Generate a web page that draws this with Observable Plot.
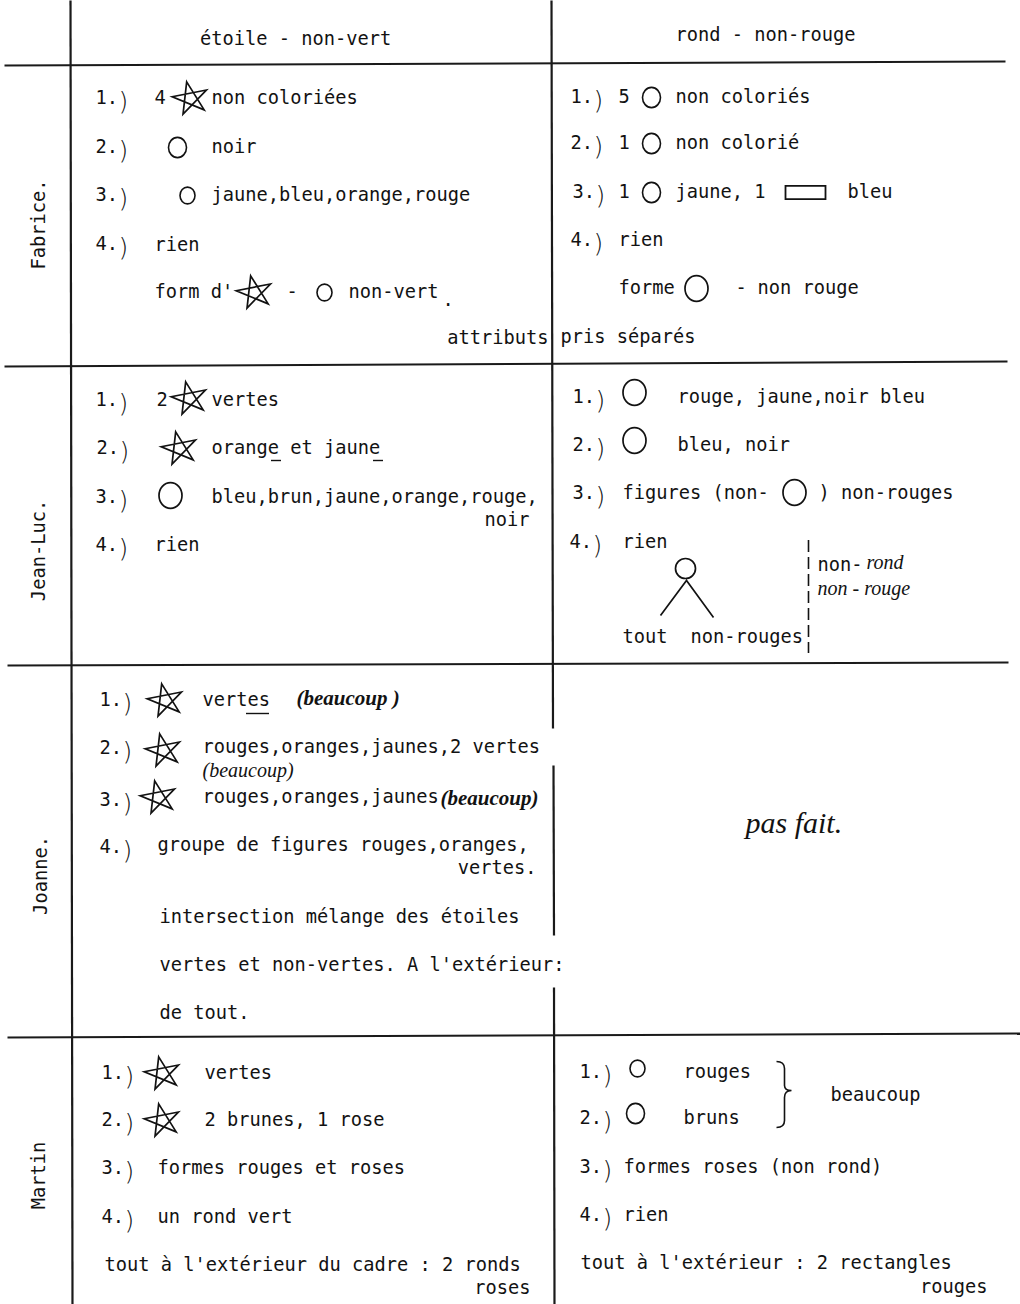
<!DOCTYPE html>
<html>
<head>
<meta charset="utf-8">
<script src="https://cdn.jsdelivr.net/npm/d3@7"></script>
<script src="https://cdn.jsdelivr.net/npm/@observablehq/plot@0.6"></script>
<style>
html, body { margin: 0; padding: 0; background: #fff; overflow: hidden; }
#chart svg { display: block; }
</style>
</head>
<body>
<div id="chart"></div>
<script>
const columnHeaders = [
  {text: "étoile - non-vert", x: 295, y: 39},
  {text: "rond - non-rouge", x: 765, y: 35}
];
const students = [
  {name: "Fabrice.", x: 39, y: 224},
  {name: "Jean-Luc.", x: 39, y: 550},
  {name: "Joanne.", x: 41, y: 875},
  {name: "Martin", x: 39, y: 1175}
];
const itemNumbers = [
  // Fabrice
  {n: "1", x: 98, y: 98}, {n: "2", x: 98, y: 147}, {n: "3", x: 98, y: 195}, {n: "4", x: 98, y: 244},
  {n: "1", x: 573, y: 97}, {n: "2", x: 573, y: 143}, {n: "3", x: 575, y: 192}, {n: "4", x: 573, y: 240},
  // Jean-Luc
  {n: "1", x: 98, y: 400}, {n: "2", x: 99, y: 448}, {n: "3", x: 98, y: 497}, {n: "4", x: 98, y: 545},
  {n: "1", x: 575, y: 397}, {n: "2", x: 575, y: 445}, {n: "3", x: 575, y: 493}, {n: "4", x: 572, y: 542},
  // Joanne
  {n: "1", x: 102, y: 700}, {n: "2", x: 102, y: 748}, {n: "3", x: 102, y: 800}, {n: "4", x: 102, y: 847},
  // Martin
  {n: "1", x: 104, y: 1073}, {n: "2", x: 104, y: 1120}, {n: "3", x: 104, y: 1168}, {n: "4", x: 104, y: 1217},
  {n: "1", x: 582, y: 1072}, {n: "2", x: 582, y: 1118}, {n: "3", x: 582, y: 1167}, {n: "4", x: 582, y: 1215}
];
const typedText = [
  // Fabrice, étoile - non-vert
  {text: "4", x: 154, y: 98},
  {text: "non coloriées", x: 211, y: 98},
  {text: "noir", x: 211, y: 147},
  {text: "jaune,bleu,orange,rouge", x: 211, y: 195},
  {text: "rien", x: 154, y: 245},
  {text: "form d'", x: 154, y: 292},
  {text: "-", x: 286, y: 292},
  {text: "non-vert", x: 348, y: 292},
  {text: ".", x: 442, y: 300},
  // Fabrice, rond - non-rouge
  {text: "5", x: 618, y: 97},
  {text: "non coloriés", x: 675, y: 97},
  {text: "1", x: 618, y: 143},
  {text: "non colorié", x: 675, y: 143},
  {text: "1", x: 618, y: 192},
  {text: "jaune, 1", x: 675, y: 192},
  {text: "bleu", x: 847, y: 192},
  {text: "rien", x: 618, y: 240},
  {text: "forme", x: 618, y: 288},
  {text: "-", x: 735, y: 288},
  {text: "non rouge", x: 757, y: 288},
  {text: "pris séparés", x: 560, y: 337},
  // Jean-Luc, étoile - non-vert
  {text: "2", x: 156, y: 400},
  {text: "vertes", x: 211, y: 400},
  {text: "orange et jaune", x: 211, y: 448},
  {text: "bleu,brun,jaune,orange,rouge,", x: 211, y: 497},
  {text: "rien", x: 154, y: 545},
  // Jean-Luc, rond - non-rouge
  {text: "rouge, jaune,noir bleu", x: 677, y: 397},
  {text: "bleu, noir", x: 677, y: 445},
  {text: "figures (non-", x: 622, y: 493},
  {text: ") non-rouges", x: 818, y: 493},
  {text: "rien", x: 622, y: 542},
  {text: "non-", x: 817, y: 565},
  {text: "tout", x: 622, y: 637},
  {text: "non-rouges", x: 690, y: 637},
  // Joanne, étoile - non-vert
  {text: "vertes", x: 202, y: 700},
  {text: "rouges,oranges,jaunes,2 vertes", x: 202, y: 747},
  {text: "rouges,oranges,jaunes", x: 202, y: 797},
  {text: "groupe de figures rouges,oranges,", x: 157, y: 845},
  {text: "intersection mélange des étoiles", x: 159, y: 917},
  {text: "vertes et non-vertes. A l'extérieur:", x: 159, y: 965},
  {text: "de tout.", x: 159, y: 1013},
  // Martin, étoile - non-vert
  {text: "vertes", x: 204, y: 1073},
  {text: "2 brunes, 1 rose", x: 204, y: 1120},
  {text: "formes rouges et roses", x: 157, y: 1168},
  {text: "un rond vert", x: 157, y: 1217},
  {text: "tout à l'extérieur du cadre : 2 ronds", x: 104, y: 1265},
  // Martin, rond - non-rouge
  {text: "rouges", x: 683, y: 1072},
  {text: "bruns", x: 683, y: 1118},
  {text: "beaucoup", x: 830, y: 1095},
  {text: "formes roses (non rond)", x: 623, y: 1167},
  {text: "rien", x: 623, y: 1215},
  {text: "tout à l'extérieur : 2 rectangles", x: 580, y: 1263}
];
const typedTextRight = [
  {text: "attributs", x: 548, y: 338},
  {text: "noir", x: 529, y: 520},
  {text: "vertes.", x: 536, y: 868},
  {text: "roses", x: 530, y: 1288},
  {text: "rouges", x: 987, y: 1287}
];
const handNotes = [
  {text: "(beaucoup)", x: 202, y: 770},
  {text: "rond", x: 866, y: 562},
  {text: "non - rouge", x: 817, y: 588}
];
const handNotesBold = [
  {text: "(beaucoup )", x: 296, y: 698},
  {text: "(beaucoup)", x: 440, y: 798}
];
const handLarge = [
  {text: "pas fait.", x: 745, y: 823}
];
const stars = [
  {x: 190, y: 98}, {x: 254, y: 292},
  {x: 189, y: 398}, {x: 179, y: 448},
  {x: 165, y: 700}, {x: 163, y: 750}, {x: 158, y: 797},
  {x: 162, y: 1073}, {x: 162, y: 1120}
];
const roundsSmall = [{x: 187, y: 195}, {x: 324, y: 292}, {x: 637, y: 1068}];
const roundsMedium = [{x: 177, y: 147}, {x: 651, y: 97}, {x: 651, y: 143}, {x: 651, y: 192}, {x: 635, y: 1113}];
const roundsLarge = [{x: 696, y: 288}, {x: 170, y: 495}, {x: 634, y: 392}, {x: 634, y: 440}, {x: 794, y: 492}];
const rectangles = [{x: 805, y: 192}];
const trees = [{x: 686, y: 592}];
const braces = [{x: 784, y: 1094}];
const underlines = [
  {x1: 271, x2: 281, y: 460}, {x1: 373, x2: 383, y: 460},
  {x1: 246, x2: 269, y: 713}
];
const dashedRules = [{x: 808, y1: 540, y2: 653}];
const horizontalRules = [
  {x1: 4, y1: 65, x2: 1005, y2: 61},
  {x1: 4, y1: 366, x2: 1007, y2: 361},
  {x1: 7, y1: 665, x2: 1008, y2: 662},
  {x1: 7, y1: 1037, x2: 1020, y2: 1033}
];
const verticalRules = [
  {x1: 70, y1: 0, x2: 72, y2: 1304},
  {x1: 551, y1: 0, x2: 552.5, y2: 728},
  {x1: 553, y1: 765, x2: 553.5, y2: 935},
  {x1: 553.5, y1: 987, x2: 554, y2: 1304}
];

// ---------- custom glyphs ----------
const pentagram = {
  draw(ctx, size) {
    const R = Math.sqrt(size / Math.PI), rot = -12 * Math.PI / 180, sx = 1.08;
    const pts = [];
    for (let k = 0; k < 5; k++) {
      const a = -Math.PI / 2 + k * 4 * Math.PI / 5 + rot;
      pts.push([sx * R * Math.cos(a), R * Math.sin(a)]);
    }
    ctx.moveTo(pts[0][0], pts[0][1]);
    for (let k = 1; k < 5; k++) ctx.lineTo(pts[k][0], pts[k][1]);
    ctx.closePath();
  }
};
const oval = {
  draw(ctx, size) {
    const r = Math.sqrt(size / Math.PI), rx = r, ry = r * 1.12, k = 0.5523;
    ctx.moveTo(rx, 0);
    ctx.bezierCurveTo(rx, ry * k, rx * k, ry, 0, ry);
    ctx.bezierCurveTo(-rx * k, ry, -rx, ry * k, -rx, 0);
    ctx.bezierCurveTo(-rx, -ry * k, -rx * k, -ry, 0, -ry);
    ctx.bezierCurveTo(rx * k, -ry, rx, -ry * k, rx, 0);
    ctx.closePath();
  }
};
const oblong = {
  draw(ctx, size) {
    const R = Math.sqrt(size / Math.PI), w = R, h = 0.33 * R;
    ctx.moveTo(-w, -h); ctx.lineTo(w, -h); ctx.lineTo(w, h); ctx.lineTo(-w, h); ctx.closePath();
  }
};
const tree = {
  draw(ctx, size) {
    const R = Math.sqrt(size / Math.PI);
    const cx = -0.1 * R, cy = -2.4 * R;
    ctx.moveTo(cx + R, cy);
    ctx.arc(cx, cy, R, 0, 2 * Math.PI);
    ctx.moveTo(-2.6 * R, 2.3 * R);
    ctx.lineTo(0, -1.2 * R);
    ctx.lineTo(2.7 * R, 2.5 * R);
  }
};
const brace = {
  draw(ctx, size) {
    const u = Math.sqrt(size / Math.PI) / 33.5;
    ctx.moveTo(-8 * u, -33 * u);
    ctx.quadraticCurveTo(0, -33 * u, 0, -26 * u);
    ctx.lineTo(0, -9 * u);
    ctx.quadraticCurveTo(0, -4 * u, 7 * u, -4 * u);
    ctx.quadraticCurveTo(0, -4 * u, 0, 3 * u);
    ctx.lineTo(0, 26 * u);
    ctx.quadraticCurveTo(0, 33 * u, -8 * u, 33 * u);
  }
};

// ---------- drawing ----------
const mono = "'DejaVu Sans Mono', 'Liberation Mono', monospace";
const hand = "'Liberation Serif', 'DejaVu Serif', serif";
const ink = "#121212";
const fs = 18.7;

const chart = Plot.plot({
  width: 1020,
  height: 1304,
  margin: 0,
  x: {domain: [0, 1020], range: [0, 1020], axis: null},
  y: {domain: [0, 1304], range: [0, 1304], axis: null},
  style: {background: "#fff"},
  marks: [
    Plot.link(horizontalRules, {x1: "x1", y1: "y1", x2: "x2", y2: "y2", stroke: "#1a1a1a", strokeWidth: 2}),
    Plot.link(verticalRules, {x1: "x1", y1: "y1", x2: "x2", y2: "y2", stroke: "#1a1a1a", strokeWidth: 2.2}),
    Plot.ruleX(dashedRules, {x: "x", y1: "y1", y2: "y2", stroke: ink, strokeWidth: 1.6, strokeDasharray: "12,5"}),
    Plot.ruleY(underlines, {y: "y", x1: "x1", x2: "x2", stroke: ink, strokeWidth: 1.4}),
    Plot.text(columnHeaders, {x: "x", y: "y", text: "text", textAnchor: "middle", fontFamily: mono, fontSize: fs, fill: ink}),
    Plot.text(students, {x: "x", y: "y", text: "name", rotate: -90, textAnchor: "middle", fontFamily: mono, fontSize: fs, fill: ink}),
    Plot.text(itemNumbers, {x: "x", y: "y", text: d => d.n + ".", textAnchor: "start", fontFamily: mono, fontSize: fs, fill: ink, dx: -3}),
    Plot.text(itemNumbers, {x: "x", y: "y", text: () => ")", textAnchor: "start", fontFamily: "'DejaVu Sans', sans-serif", fontSize: 25, fontWeight: 300, fill: ink, dx: 20, dy: 3}),
    Plot.text(typedText, {x: "x", y: "y", text: "text", textAnchor: "start", fontFamily: mono, fontSize: fs, fill: ink}),
    Plot.text(typedTextRight, {x: "x", y: "y", text: "text", textAnchor: "end", fontFamily: mono, fontSize: fs, fill: ink}),
    Plot.text(handNotes, {x: "x", y: "y", text: "text", textAnchor: "start", fontFamily: hand, fontStyle: "italic", fontSize: 20, fill: ink}),
    Plot.text(handNotesBold, {x: "x", y: "y", text: "text", textAnchor: "start", fontFamily: hand, fontStyle: "italic", fontWeight: "bold", fontSize: 21, fill: ink}),
    Plot.text(handLarge, {x: "x", y: "y", text: "text", textAnchor: "start", fontFamily: hand, fontStyle: "italic", fontSize: 30, fill: ink}),
    Plot.dot(stars, {x: "x", y: "y", r: 17, symbol: pentagram, fill: "none", stroke: ink, strokeWidth: 1.7}),
    Plot.dot(roundsSmall, {x: "x", y: "y", r: 7.5, symbol: oval, fill: "none", stroke: ink, strokeWidth: 1.6}),
    Plot.dot(roundsMedium, {x: "x", y: "y", r: 9, symbol: oval, fill: "none", stroke: ink, strokeWidth: 1.6}),
    Plot.dot(roundsLarge, {x: "x", y: "y", r: 11.5, symbol: oval, fill: "none", stroke: ink, strokeWidth: 1.7}),
    Plot.dot(rectangles, {x: "x", y: "y", r: 20, symbol: oblong, fill: "none", stroke: ink, strokeWidth: 1.8}),
    Plot.dot(trees, {x: "x", y: "y", r: 10, symbol: tree, fill: "none", stroke: ink, strokeWidth: 1.7}),
    Plot.dot(braces, {x: "x", y: "y", r: 33.5, symbol: brace, fill: "none", stroke: ink, strokeWidth: 1.6})
  ]
});
document.getElementById("chart").append(chart);
</script>
</body>
</html>
